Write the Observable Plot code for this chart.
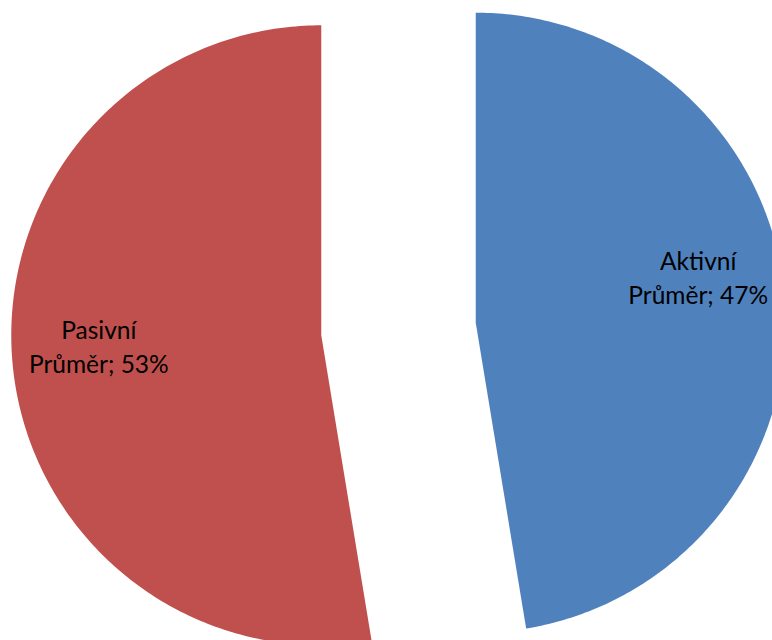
<!DOCTYPE html>
<html>
<head>
<meta charset="utf-8">
<script src="https://cdn.jsdelivr.net/npm/d3@7"></script>
<script src="https://cdn.jsdelivr.net/npm/@observablehq/plot@0.6"></script>
<style>
  html, body { margin: 0; padding: 0; background: #fff; overflow: hidden; }
  #chart svg { display: block; overflow: hidden; }
</style>
</head>
<body>
<div id="chart"></div>
<script>
// Data
const categories = ["Aktivní", "Pasivní"];
const values = [47.4, 52.6];
const seriesLabel = "Průměr";
const colors = ["#4F81BD", "#C0504D"];

// Pie layout (clockwise from 12 o'clock, in radians)
const pie = d3.pie().sort(null).value(d => d.value);
const arcs = pie(categories.map((name, i) => ({name, value: values[i]})));
const explode = 0.25;     // explosion as a fraction of the radius
const labelDist = 0.72;   // label distance from the slice vertex

const slicePts = [];
const labels = [];
for (const a of arcs) {
  const mid = (a.startAngle + a.endAngle) / 2;
  const ox = explode * Math.sin(mid), oy = explode * Math.cos(mid);
  slicePts.push({name: a.data.name, x: ox, y: oy});
  const n = 240;
  for (let k = 0; k <= n; k++) {
    const t = a.startAngle + (a.endAngle - a.startAngle) * k / n;
    slicePts.push({name: a.data.name, x: ox + Math.sin(t), y: oy + Math.cos(t)});
  }
  slicePts.push({name: a.data.name, x: ox, y: oy});
  const total = d3.sum(values);
  labels.push({
    name: a.data.name,
    x: ox + labelDist * Math.sin(mid),
    y: oy + labelDist * Math.cos(mid),
    text: `${a.data.name}\n${seriesLabel}; ${Math.round(a.data.value / total * 100)}%`
  });
}

const W = 772, H = 640, R = 310, CX = 398, CY = 328.5;

const textStyle = {
  x: "x", y: "y", text: "text",
  fontSize: 24.5, lineHeight: 1.38, fontFamily: "Lato, 'Noto Sans', sans-serif",
  fill: "black", textAnchor: "middle"
};

const chart = Plot.plot({
  width: W,
  height: H,
  margin: 0,
  x: {domain: [-CX / R, (W - CX) / R], axis: null},
  y: {domain: [(CY - H) / R, CY / R], axis: null},
  color: {domain: categories, range: colors},
  marks: [
    Plot.line(slicePts, {x: "x", y: "y", z: "name", fill: "name", stroke: "none", clip: true}),
    Plot.text(labels.filter(d => d.name === "Aktivní"), {...textStyle, dy: -28}),
    Plot.text(labels.filter(d => d.name === "Pasivní"), {...textStyle, dy: -8})
  ]
});
document.getElementById("chart").appendChild(chart);
</script>
</body>
</html>
